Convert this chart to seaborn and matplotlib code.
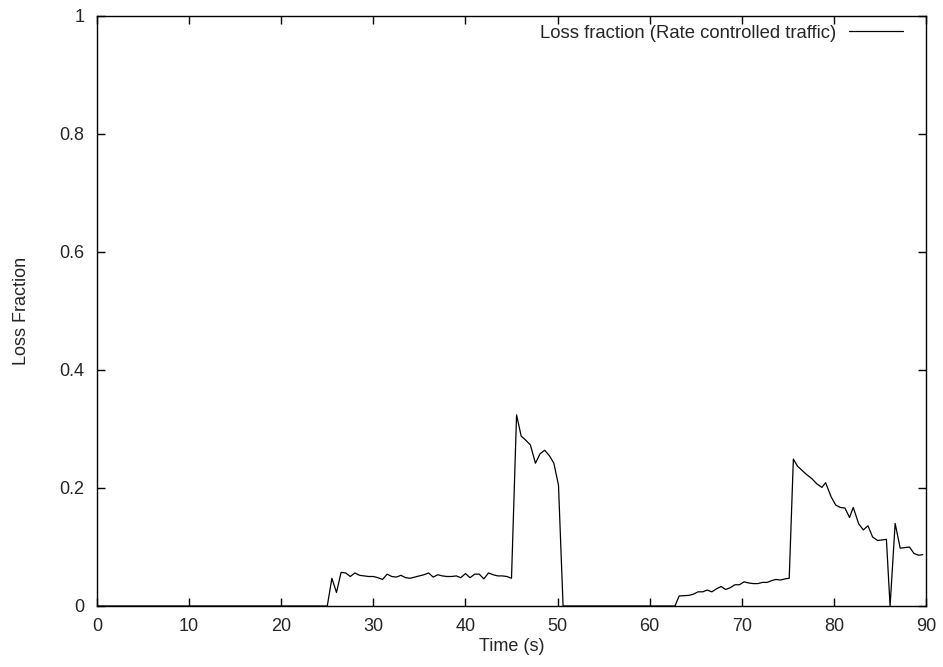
import numpy as np
import pandas as pd
import matplotlib
matplotlib.use("Agg")
import matplotlib.pyplot as plt
import seaborn as sns

# ---- data ----
time_lead = [0.0, 25.0]
loss_lead = [0.0, 0.0]

time_seg1 = [25.5, 26.0, 26.5, 27.0, 27.5, 28.0, 28.5, 29.0, 29.5, 30.0,
             30.5, 31.0, 31.5, 32.0, 32.5, 33.0, 33.5, 34.0, 34.5, 35.0,
             35.5, 36.0, 36.5, 37.0, 37.5, 38.0, 38.5, 39.0, 39.5, 40.0,
             40.5, 41.0, 41.5, 42.0, 42.5, 43.0, 43.5, 44.0, 44.5, 45.0,
             45.55, 46.05, 46.55, 47.05, 47.6, 48.1, 48.6, 49.1, 49.6, 50.1,
             50.6]
loss_seg1 = [0.047, 0.023, 0.057, 0.056, 0.050, 0.056, 0.052, 0.051, 0.050, 0.050,
             0.048, 0.045, 0.054, 0.050, 0.049, 0.052, 0.048, 0.047, 0.049, 0.051,
             0.053, 0.056, 0.049, 0.053, 0.051, 0.050, 0.050, 0.051, 0.048, 0.055,
             0.048, 0.054, 0.054, 0.046, 0.056, 0.053, 0.051, 0.051, 0.050, 0.047,
             0.324, 0.288, 0.281, 0.273, 0.242, 0.258, 0.264, 0.255, 0.242, 0.205,
             0.0]

time_gap = [62.75]
loss_gap = [0.0]

time_seg2 = [63.2, 63.7, 64.25, 64.75, 65.25, 65.75, 66.25, 66.75, 67.25, 67.75,
             68.25, 68.75, 69.25, 69.75, 70.25, 70.75, 71.25, 71.75, 72.25, 72.75,
             73.25, 73.7, 74.2, 74.7, 75.15, 75.6, 76.05, 76.6, 77.1, 77.6,
             78.15, 78.7, 79.1, 79.7, 80.2, 80.7, 81.2, 81.7, 82.1, 82.7,
             83.2, 83.7, 84.2, 84.75, 85.25, 85.7, 86.1, 86.65, 87.2, 87.7,
             88.2, 88.7, 89.2, 89.65]
loss_seg2 = [0.017, 0.0175, 0.018, 0.020, 0.024, 0.024, 0.027, 0.024, 0.029, 0.033,
             0.028, 0.031, 0.036, 0.036, 0.041, 0.039, 0.038, 0.038, 0.040, 0.040,
             0.043, 0.045, 0.044, 0.046, 0.047, 0.249, 0.237, 0.229, 0.222, 0.216,
             0.207, 0.201, 0.209, 0.185, 0.171, 0.167, 0.166, 0.150, 0.167, 0.139,
             0.129, 0.136, 0.117, 0.111, 0.112, 0.113, 0.0, 0.140, 0.098, 0.099,
             0.100, 0.089, 0.086, 0.087]

x_ticks = [0, 10, 20, 30, 40, 50, 60, 70, 80, 90]
y_ticks = [0, 0.2, 0.4, 0.6, 0.8, 1]
y_tick_labels = ["0", "0.2", "0.4", "0.6", "0.8", "1"]
series_label = "Loss fraction (Rate controlled traffic)"

df = pd.DataFrame({
    "time": time_lead + time_seg1 + time_gap + time_seg2,
    "loss": loss_lead + loss_seg1 + loss_gap + loss_seg2,
})

FS = 13

sns.set_style("ticks")
plt.rcParams["font.family"] = ["Liberation Sans", "DejaVu Sans"]
plt.rcParams["font.size"] = FS

fig = plt.figure(figsize=(9.43, 6.67), dpi=100)
ax = fig.add_axes([97 / 943, 1 - 606 / 667, (926 - 97) / 943, (606 - 16) / 667])

sns.lineplot(data=df, x="time", y="loss", ax=ax, color="black",
             linewidth=0.9, label=series_label, estimator=None, sort=False)

ax.set_xlim(0, 90)
ax.set_ylim(0, 1)
ax.set_xticks(x_ticks)
ax.set_yticks(y_ticks)
ax.set_yticklabels(y_tick_labels)
ax.tick_params(direction="in", length=6, width=1, top=True, right=True,
               labelsize=FS, color="black")
ax.tick_params(axis="x", pad=8.5)
ax.tick_params(axis="y", pad=9)
for s in ax.spines.values():
    s.set_linewidth(1)
    s.set_color("black")
ax.set_xlabel("Time (s)", fontsize=FS, labelpad=2)
ax.set_ylabel("Loss Fraction", fontsize=FS, labelpad=21)

ax.legend(loc="upper right", bbox_to_anchor=(0.9723, 0.985),
          frameon=False, markerfirst=False,
          handlelength=2.9, handletextpad=0.7, fontsize=13.3,
          borderaxespad=0.0, borderpad=0.0)

fig.savefig("out.png", dpi=100)
